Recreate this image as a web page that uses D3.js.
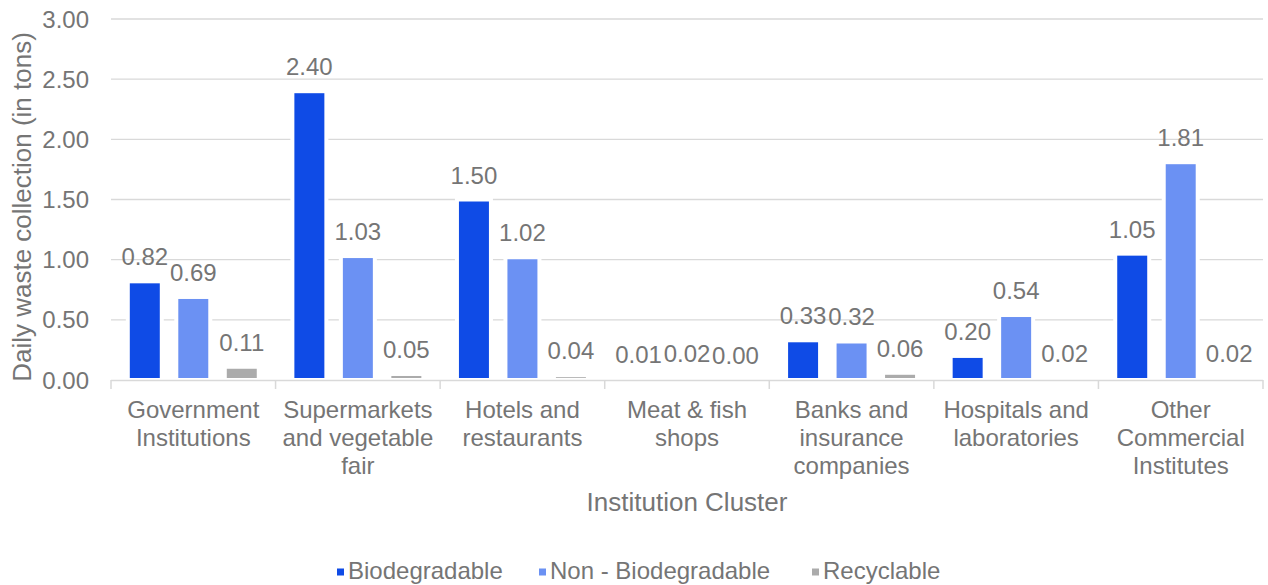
<!DOCTYPE html>
<html>
<head>
<meta charset="utf-8">
<script src="https://cdn.jsdelivr.net/npm/d3@7"></script>
<style>
  body { margin: 0; background: #fff; }
  text { font-family: "Liberation Sans", Arial, sans-serif; fill: #757575; }
</style>
</head>
<body>
<script>
// chart data
const categories = [
  ["Government", "Institutions"],
  ["Supermarkets", "and vegetable", "fair"],
  ["Hotels and", "restaurants"],
  ["Meat & fish", "shops"],
  ["Banks and", "insurance", "companies"],
  ["Hospitals and", "laboratories"],
  ["Other", "Commercial", "Institutes"]
];
const seriesNames = ["Biodegradable", "Non - Biodegradable", "Recyclable"];
const biodegradable = [0.82, 2.40, 1.50, 0.01, 0.33, 0.20, 1.05];
const nonBiodegradable = [0.69, 1.03, 1.02, 0.02, 0.32, 0.54, 1.81];
const recyclable = [0.11, 0.05, 0.04, 0.00, 0.06, 0.02, 0.02];
const yTicks = [0, 0.5, 1, 1.5, 2, 2.5, 3];
const colors = ["#0f4be6", "#6b91f3", "#ababab"];

let w = 1268, h = 585;
const plotL = 111, plotR = 1263, plotT = 19, plotB = 380;

const svg = d3.select("body").append("svg")
  .attr("width", w).attr("height", h);

const x = d3.scaleBand().domain(d3.range(categories.length)).range([plotL, plotR]);
const x1 = d3.scaleBand().domain(d3.range(3)).range([0, x.bandwidth()])
  .paddingInner(0.299).paddingOuter(0.3465);
const y = d3.scaleLinear().domain([0, 3]).range([plotB, plotT]);

// gridlines
svg.append("g").selectAll("line")
  .data(yTicks.slice(1))
  .enter().append("line")
  .attr("x1", plotL).attr("x2", plotR)
  .attr("y1", d => y(d)).attr("y2", d => y(d))
  .attr("stroke", "#d9d9d9").attr("stroke-width", 1.3);

// y tick labels
svg.append("g").selectAll("text")
  .data(yTicks)
  .enter().append("text")
  .attr("x", 89).attr("y", d => y(d) + 8.5)
  .attr("text-anchor", "end")
  .style("font-size", "24px")
  .text(d => d.toFixed(2));

// bars
const all = [biodegradable, nonBiodegradable, recyclable];
const groups = svg.append("g").selectAll("g")
  .data(categories)
  .enter().append("g")
  .attr("transform", (d, i) => "translate(" + x(i) + ",0)");

groups.selectAll("rect")
  .data((d, i) => all.map((s, k) => ({k: k, v: s[i]})))
  .enter().append("rect")
  .attr("x", d => x1(d.k))
  .attr("width", x1.bandwidth())
  .attr("y", d => y(d.v))
  .attr("height", d => plotB - y(d.v))
  .attr("fill", d => colors[d.k])
  .attr("stroke", "#fff").attr("stroke-width", 4);

groups.selectAll("text")
  .data((d, i) => all.map((s, k) => ({k: k, v: s[i]})))
  .enter().append("text")
  .attr("x", d => x1(d.k) + x1.bandwidth() / 2)
  .attr("y", d => y(d.v) - 16)
  .attr("text-anchor", "middle")
  .style("font-size", "24px")
  .text(d => d.v.toFixed(2));

// x axis line and ticks
svg.append("line")
  .attr("x1", plotL).attr("x2", plotR)
  .attr("y1", plotB + 0.5).attr("y2", plotB + 0.5)
  .attr("stroke", "#d9d9d9").attr("stroke-width", 1.5);
svg.append("g").selectAll("line")
  .data(d3.range(categories.length + 1))
  .enter().append("line")
  .attr("x1", i => plotL + i * x.step()).attr("x2", i => plotL + i * x.step())
  .attr("y1", plotB).attr("y2", plotB + 9)
  .attr("stroke", "#d9d9d9").attr("stroke-width", 1.5);

// category labels
const cat = svg.append("g").selectAll("text")
  .data(categories)
  .enter().append("text")
  .attr("text-anchor", "middle")
  .style("font-size", "24px");
cat.selectAll("tspan")
  .data((d, i) => d.map(t => ({t: t, i: i})))
  .enter().append("tspan")
  .attr("x", d => x(d.i) + x.bandwidth() / 2)
  .attr("y", (d, j) => 418 + j * 28)
  .text(d => d.t);

// axis titles
svg.append("text")
  .attr("x", (plotL + plotR) / 2).attr("y", 511)
  .attr("text-anchor", "middle")
  .style("font-size", "26px")
  .text("Institution Cluster");

svg.append("text")
  .attr("transform", "translate(31,207) rotate(-90)")
  .attr("text-anchor", "middle")
  .style("font-size", "26px")
  .text("Daily waste collection (in tons)");

// legend
const legX = [337, 539, 812];
const leg = svg.append("g").selectAll("g")
  .data(seriesNames)
  .enter().append("g")
  .attr("transform", (d, i) => "translate(" + legX[i] + ",572)");
leg.append("rect")
  .attr("x", 0).attr("y", -3.5).attr("width", 7).attr("height", 7)
  .attr("fill", (d, i) => colors[i]);
leg.append("text")
  .attr("x", 11).attr("y", 7)
  .style("font-size", "24px")
  .text(d => d);
</script>
</body>
</html>
